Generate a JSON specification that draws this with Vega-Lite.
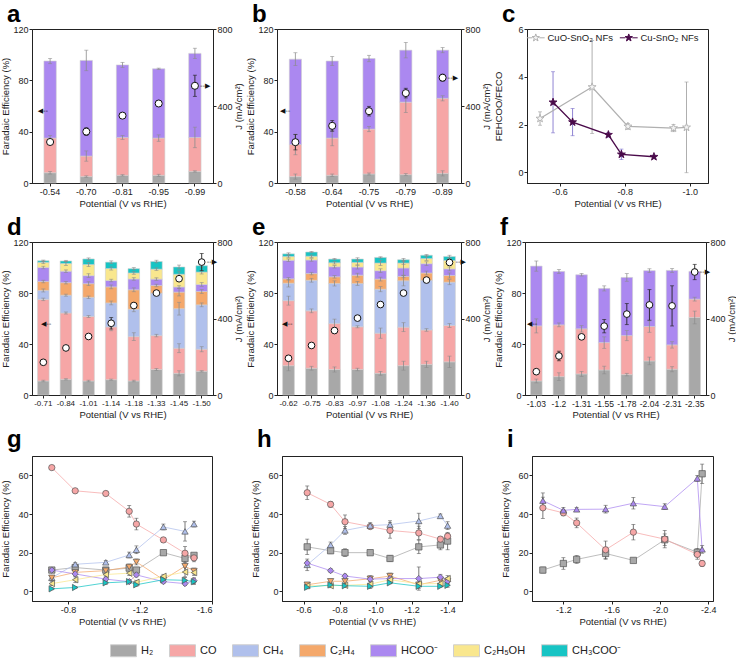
{
"$schema":"https://vega.github.io/schema/vega-lite/v6.json",
"padding":{"top":2,"left":0,"right":0,"bottom":0},
"background":"white",
"config":{
 "font":"Liberation Sans",
 "view":{"stroke":"#222","strokeWidth":1},
 "axis":{"grid":false,"domainColor":"#222","tickColor":"#222","labelColor":"#222","titleColor":"#222","labelFontSize":9,"titleFontSize":9.5,"titleFontWeight":"normal","tickSize":3,"labelPadding":1,"titlePadding":2,"labelFont":"Liberation Sans","titleFont":"Liberation Sans","labelOverlap":false},
 "axisX":{"labelAngle":0},
 "axisRight":{"titleAngle":270,"titleBaseline":"middle","titleX":25},
 "title":{"fontSize":24,"fontWeight":"bold","anchor":"start","frame":"group","dx":-25,"offset":-2,"baseline":"alphabetic","font":"Liberation Sans","color":"#000"},
 "legend":{"labelFont":"Liberation Sans","labelColor":"#222"}
},
"datasets":{
 "prods":[{"p":"H₂","o":1},{"p":"CO","o":2},{"p":"CH₄","o":3},{"p":"C₂H₄","o":4},{"p":"HCOO⁻","o":5},{"p":"C₂H₅OH","o":6},{"p":"CH₃COO⁻","o":7}],
 "a":[
  {"v":-0.54,"p":"H₂","fe":8,"e":1},{"v":-0.54,"p":"CO","fe":27,"e":2},{"v":-0.54,"p":"HCOO⁻","fe":60,"e":2},
  {"v":-0.70,"p":"H₂","fe":5,"e":0.6},{"v":-0.70,"p":"CO","fe":16,"e":4},{"v":-0.70,"p":"HCOO⁻","fe":74.5,"e":8},
  {"v":-0.81,"p":"H₂","fe":6,"e":0.5},{"v":-0.81,"p":"CO","fe":29.5,"e":1.5},{"v":-0.81,"p":"HCOO⁻","fe":56.5,"e":2},
  {"v":-0.95,"p":"H₂","fe":6,"e":0.8},{"v":-0.95,"p":"CO","fe":29,"e":2.5},{"v":-0.95,"p":"HCOO⁻","fe":54,"e":0.5},
  {"v":-0.99,"p":"H₂","fe":9,"e":0.5},{"v":-0.99,"p":"CO","fe":26.5,"e":8},{"v":-0.99,"p":"HCOO⁻","fe":65.5,"e":4}],
 "aJ":[{"v":-0.54,"j":213,"je":10},{"v":-0.70,"j":267,"je":20},{"v":-0.81,"j":350,"je":8},{"v":-0.95,"j":413,"je":12},{"v":-0.99,"j":505,"je":55}],
 "b":[
  {"v":-0.58,"p":"H₂","fe":5,"e":2},{"v":-0.58,"p":"CO","fe":25,"e":8},{"v":-0.58,"p":"HCOO⁻","fe":66.5,"e":5},
  {"v":-0.64,"p":"H₂","fe":6,"e":1},{"v":-0.64,"p":"CO","fe":29,"e":6},{"v":-0.64,"p":"HCOO⁻","fe":60,"e":3.5},
  {"v":-0.75,"p":"H₂","fe":7,"e":0.8},{"v":-0.75,"p":"CO","fe":35,"e":2},{"v":-0.75,"p":"HCOO⁻","fe":55,"e":2.5},
  {"v":-0.79,"p":"H₂","fe":6.5,"e":0.8},{"v":-0.79,"p":"CO","fe":56.5,"e":8},{"v":-0.79,"p":"HCOO⁻","fe":40.5,"e":6},
  {"v":-0.89,"p":"H₂","fe":7.5,"e":2},{"v":-0.89,"p":"CO","fe":58.5,"e":2},{"v":-0.89,"p":"HCOO⁻","fe":37.5,"e":2}],
 "bJ":[{"v":-0.58,"j":212,"je":40},{"v":-0.64,"j":297,"je":28},{"v":-0.75,"j":373,"je":25},{"v":-0.79,"j":467,"je":25},{"v":-0.89,"j":547,"je":18}],
 "c":[
  {"v":-0.54,"s":"CuO-SnO₂ NFs","r":2.25,"re":0.28},{"v":-0.70,"s":"CuO-SnO₂ NFs","r":3.57,"re":1.95},{"v":-0.81,"s":"CuO-SnO₂ NFs","r":1.92,"re":0.12},{"v":-0.95,"s":"CuO-SnO₂ NFs","r":1.85,"re":0.15},{"v":-0.99,"s":"CuO-SnO₂ NFs","r":1.88,"re":1.9},
  {"v":-0.58,"s":"Cu-SnO₂ NFs","r":2.93,"re":1.28},{"v":-0.64,"s":"Cu-SnO₂ NFs","r":2.1,"re":0.57},{"v":-0.75,"s":"Cu-SnO₂ NFs","r":1.57,"re":0.1},{"v":-0.79,"s":"Cu-SnO₂ NFs","r":0.75,"re":0.22},{"v":-0.89,"s":"Cu-SnO₂ NFs","r":0.65,"re":0.06}],
 "d":[
  {"v":-0.71,"p":"H₂","fe":11,"e":0.6},{"v":-0.71,"p":"CO","fe":64,"e":1},{"v":-0.71,"p":"CH₄","fe":7,"e":1.2},{"v":-0.71,"p":"C₂H₄","fe":7,"e":1},{"v":-0.71,"p":"HCOO⁻","fe":11,"e":1},{"v":-0.71,"p":"C₂H₅OH","fe":4,"e":1},{"v":-0.71,"p":"CH₃COO⁻","fe":1.3,"e":0.5},
  {"v":-0.84,"p":"H₂","fe":12.3,"e":0.5},{"v":-0.84,"p":"CO","fe":52,"e":0.8},{"v":-0.84,"p":"CH₄","fe":14,"e":0.8},{"v":-0.84,"p":"C₂H₄","fe":9.8,"e":1},{"v":-0.84,"p":"HCOO⁻","fe":9,"e":1},{"v":-0.84,"p":"C₂H₅OH","fe":6,"e":1.5},{"v":-0.84,"p":"CH₃COO⁻","fe":2,"e":0.5},
  {"v":-1.01,"p":"H₂","fe":11,"e":0.6},{"v":-1.01,"p":"CO","fe":50.6,"e":0.8},{"v":-1.01,"p":"CH₄","fe":15,"e":1},{"v":-1.01,"p":"C₂H₄","fe":10.7,"e":1.5},{"v":-1.01,"p":"HCOO⁻","fe":6.3,"e":1.5},{"v":-1.01,"p":"C₂H₅OH","fe":8.7,"e":1.5},{"v":-1.01,"p":"CH₃COO⁻","fe":4.4,"e":0.8},
  {"v":-1.14,"p":"H₂","fe":12,"e":0.5},{"v":-1.14,"p":"CO","fe":41.4,"e":3},{"v":-1.14,"p":"CH₄","fe":18.8,"e":1.5},{"v":-1.14,"p":"C₂H₄","fe":12.6,"e":1.5},{"v":-1.14,"p":"HCOO⁻","fe":5,"e":1},{"v":-1.14,"p":"C₂H₅OH","fe":9.4,"e":1.2},{"v":-1.14,"p":"CH₃COO⁻","fe":5,"e":1},
  {"v":-1.18,"p":"H₂","fe":11,"e":0.6},{"v":-1.18,"p":"CO","fe":34.8,"e":3},{"v":-1.18,"p":"CH₄","fe":21.5,"e":2},{"v":-1.18,"p":"C₂H₄","fe":15.2,"e":1.5},{"v":-1.18,"p":"HCOO⁻","fe":8.5,"e":1},{"v":-1.18,"p":"C₂H₅OH","fe":4.7,"e":1},{"v":-1.18,"p":"CH₃COO⁻","fe":3.4,"e":0.8},
  {"v":-1.33,"p":"H₂","fe":20,"e":0.8},{"v":-1.33,"p":"CO","fe":26.6,"e":1},{"v":-1.33,"p":"CH₄","fe":33.3,"e":1.5},{"v":-1.33,"p":"C₂H₄","fe":6,"e":1},{"v":-1.33,"p":"HCOO⁻","fe":5,"e":1},{"v":-1.33,"p":"C₂H₅OH","fe":7.8,"e":1},{"v":-1.33,"p":"CH₃COO⁻","fe":6,"e":1},
  {"v":-1.45,"p":"H₂","fe":17,"e":2},{"v":-1.45,"p":"CO","fe":19.7,"e":3.5},{"v":-1.45,"p":"CH₄","fe":31,"e":5},{"v":-1.45,"p":"C₂H₄","fe":13,"e":3},{"v":-1.45,"p":"HCOO⁻","fe":4,"e":1},{"v":-1.45,"p":"C₂H₅OH","fe":10,"e":2.5},{"v":-1.45,"p":"CH₃COO⁻","fe":5.7,"e":1.5},
  {"v":-1.50,"p":"H₂","fe":18.6,"e":0.5},{"v":-1.50,"p":"CO","fe":17.3,"e":2},{"v":-1.50,"p":"CH₄","fe":34.8,"e":1.5},{"v":-1.50,"p":"C₂H₄","fe":10.5,"e":1.5},{"v":-1.50,"p":"HCOO⁻","fe":5.5,"e":1.5},{"v":-1.50,"p":"C₂H₅OH","fe":9.7,"e":1.5},{"v":-1.50,"p":"CH₃COO⁻","fe":5,"e":1.5}],
 "dJ":[{"v":-0.71,"j":171,"je":8},{"v":-0.84,"j":246,"je":6},{"v":-1.01,"j":306,"je":6},{"v":-1.14,"j":375,"je":30},{"v":-1.18,"j":468,"je":8},{"v":-1.33,"j":533,"je":8},{"v":-1.45,"j":608,"je":8},{"v":-1.50,"j":695,"je":45}],
 "e":[
  {"v":-0.62,"p":"H₂","fe":23,"e":4},{"v":-0.62,"p":"CO","fe":51,"e":3.5},{"v":-0.62,"p":"CH₄","fe":13.7,"e":3},{"v":-0.62,"p":"C₂H₄","fe":3.4,"e":1},{"v":-0.62,"p":"HCOO⁻","fe":14.6,"e":1},{"v":-0.62,"p":"C₂H₅OH","fe":2.9,"e":1},{"v":-0.62,"p":"CH₃COO⁻","fe":2.1,"e":0.8},
  {"v":-0.75,"p":"H₂","fe":21,"e":1.5},{"v":-0.75,"p":"CO","fe":45,"e":1.5},{"v":-0.75,"p":"CH₄","fe":24,"e":1.5},{"v":-0.75,"p":"C₂H₄","fe":5.2,"e":1},{"v":-0.75,"p":"HCOO⁻","fe":10.7,"e":1},{"v":-0.75,"p":"C₂H₅OH","fe":2.9,"e":1},{"v":-0.75,"p":"CH₃COO⁻","fe":3.3,"e":0.5},
  {"v":-0.83,"p":"H₂","fe":20,"e":2},{"v":-0.83,"p":"CO","fe":36,"e":3.5},{"v":-0.83,"p":"CH₄","fe":31.5,"e":2},{"v":-0.83,"p":"C₂H₄","fe":5.2,"e":1},{"v":-0.83,"p":"HCOO⁻","fe":7.9,"e":1},{"v":-0.83,"p":"C₂H₅OH","fe":3.1,"e":1},{"v":-0.83,"p":"CH₃COO⁻","fe":2.9,"e":0.5},
  {"v":-0.97,"p":"H₂","fe":20,"e":1},{"v":-0.97,"p":"CO","fe":33.5,"e":0.8},{"v":-0.97,"p":"CH₄","fe":34,"e":1.5},{"v":-0.97,"p":"C₂H₄","fe":6.5,"e":1.5},{"v":-0.97,"p":"HCOO⁻","fe":6.3,"e":1.5},{"v":-0.97,"p":"C₂H₅OH","fe":3.7,"e":2},{"v":-0.97,"p":"CH₃COO⁻","fe":2.6,"e":1},
  {"v":-1.08,"p":"H₂","fe":17,"e":1.5},{"v":-1.08,"p":"CO","fe":31.5,"e":4},{"v":-1.08,"p":"CH₄","fe":34.5,"e":2},{"v":-1.08,"p":"C₂H₄","fe":7.9,"e":1.5},{"v":-1.08,"p":"HCOO⁻","fe":6.6,"e":1.5},{"v":-1.08,"p":"C₂H₅OH","fe":6,"e":2},{"v":-1.08,"p":"CH₃COO⁻","fe":4.4,"e":0.5},
  {"v":-1.24,"p":"H₂","fe":23,"e":3.5},{"v":-1.24,"p":"CO","fe":30.2,"e":3.5},{"v":-1.24,"p":"CH₄","fe":36.4,"e":4},{"v":-1.24,"p":"C₂H₄","fe":3.4,"e":1},{"v":-1.24,"p":"HCOO⁻","fe":6.6,"e":6},{"v":-1.24,"p":"C₂H₅OH","fe":3.9,"e":1},{"v":-1.24,"p":"CH₃COO⁻","fe":2.6,"e":1},
  {"v":-1.36,"p":"H₂","fe":24,"e":2.5},{"v":-1.36,"p":"CO","fe":27,"e":1},{"v":-1.36,"p":"CH₄","fe":39,"e":1},{"v":-1.36,"p":"C₂H₄","fe":5.7,"e":1.5},{"v":-1.36,"p":"HCOO⁻","fe":7.3,"e":1.5},{"v":-1.36,"p":"C₂H₅OH","fe":4,"e":1.5},{"v":-1.36,"p":"CH₃COO⁻","fe":2.6,"e":0.5},
  {"v":-1.40,"p":"H₂","fe":26,"e":4.5},{"v":-1.40,"p":"CO","fe":28.5,"e":1.5},{"v":-1.40,"p":"CH₄","fe":34,"e":2},{"v":-1.40,"p":"C₂H₄","fe":5.2,"e":2},{"v":-1.40,"p":"HCOO⁻","fe":5.2,"e":1.5},{"v":-1.40,"p":"C₂H₅OH","fe":6.6,"e":1.5},{"v":-1.40,"p":"CH₃COO⁻","fe":3.1,"e":1}],
 "eJ":[{"v":-0.62,"j":192,"je":8},{"v":-0.75,"j":259,"je":5},{"v":-0.83,"j":337,"je":8},{"v":-0.97,"j":402,"je":6},{"v":-1.08,"j":473,"je":6},{"v":-1.24,"j":533,"je":12},{"v":-1.36,"j":601,"je":6},{"v":-1.40,"j":693,"je":6}],
 "f":[
  {"v":-1.03,"p":"H₂","fe":11,"e":1.5},{"v":-1.03,"p":"CO","fe":43.2,"e":5.5},{"v":-1.03,"p":"HCOO⁻","fe":46.9,"e":4},
  {"v":-1.2,"p":"H₂","fe":14.4,"e":3},{"v":-1.2,"p":"CO","fe":40.6,"e":1.5},{"v":-1.2,"p":"HCOO⁻","fe":41.9,"e":1.5},
  {"v":-1.31,"p":"H₂","fe":16.5,"e":2},{"v":-1.31,"p":"CO","fe":35.4,"e":2.5},{"v":-1.31,"p":"HCOO⁻","fe":42.4,"e":1},
  {"v":-1.55,"p":"H₂","fe":19.6,"e":3},{"v":-1.55,"p":"CO","fe":21.5,"e":4.5},{"v":-1.55,"p":"HCOO⁻","fe":42.5,"e":2},
  {"v":-1.78,"p":"H₂","fe":16,"e":1},{"v":-1.78,"p":"CO","fe":30.6,"e":4},{"v":-1.78,"p":"HCOO⁻","fe":45.6,"e":3},
  {"v":-2.04,"p":"H₂","fe":26.7,"e":3},{"v":-2.04,"p":"CO","fe":27,"e":4.5},{"v":-2.04,"p":"HCOO⁻","fe":43.8,"e":1.5},
  {"v":-2.31,"p":"H₂","fe":20.2,"e":2},{"v":-2.31,"p":"CO","fe":19.1,"e":2.5},{"v":-2.31,"p":"HCOO⁻","fe":58.4,"e":1.5},
  {"v":-2.35,"p":"H₂","fe":60.8,"e":5},{"v":-2.35,"p":"CO","fe":14.4,"e":1.5},{"v":-2.35,"p":"HCOO⁻","fe":21.7,"e":2}],
 "fJ":[{"v":-1.03,"j":122,"je":10},{"v":-1.2,"j":204,"je":25},{"v":-1.31,"j":304,"je":10},{"v":-1.55,"j":360,"je":35},{"v":-1.78,"j":423,"je":55},{"v":-2.04,"j":471,"je":80},{"v":-2.31,"j":466,"je":105},{"v":-2.35,"j":643,"je":40}]
},
"spacing":7,
"resolve":{"scale":{"stroke":"independent","fill":"independent","shape":"independent"},"legend":{"stroke":"independent","fill":"independent","shape":"independent"}},
"vconcat":[
 {"spacing":2,
  "resolve":{"scale":{"stroke":"independent","fill":"independent"},"legend":{"stroke":"independent","fill":"independent"}},
  "hconcat":[
  {"width":181,"height":154,"title":{"text":"a"},
   "layer":[
    {"data":{"name":"a"},
     "transform":[{"lookup":"p","from":{"data":{"name":"prods"},"key":"p","fields":["o"]}},{"stack":"fe","groupby":["v"],"sort":[{"field":"o","order":"ascending"}],"as":["y0","y1"]}],
     "layer":[
      {"mark":{"type":"bar","stroke":"#cfcfcf","strokeWidth":0.6},
       "encoding":{
        "x":{"field":"v","type":"ordinal","sort":"descending","title":"Potential (V vs RHE)","scale":{"paddingInner":0.66,"paddingOuter":0.33},"axis":{"labelExpr":"replace(format(datum.value, '.2f'), '−', '-')"}},
        "y":{"field":"y1","type":"quantitative","title":"Faradaic Efficiency (%)","scale":{"domain":[0,120],"nice":false},"axis":{"values":[0,20,40,60,80,100,120]}},
        "y2":{"field":"y0"},
        "color":{"field":"p","type":"nominal","scale":{"domain":["H₂","CO","CH₄","C₂H₄","HCOO⁻","C₂H₅OH","CH₃COO⁻"],"range":["#a8a8a8","#f6a6a6","#b0c0ec","#f4a86b","#ab88f0","#f9e78e","#17c4c4"]},
          "legend":{"title":null,"orient":"none","legendX":78,"legendY":608,"direction":"horizontal","symbolType":"M-1,-0.46H1V0.46H-1Z","symbolSize":676,"labelFontSize":11,"labelOffset":4,"columnPadding":13,"symbolStrokeColor":"#bdbdbd","symbolStrokeWidth":1}}}},
      {"mark":{"type":"errorbar","color":"#8c8c8c","ticks":{"size":4},"thickness":0.8},
       "encoding":{"x":{"field":"v","type":"ordinal","sort":"descending","title":"Potential (V vs RHE)"},"y":{"field":"y1","type":"quantitative","title":"Faradaic Efficiency (%)"},"yError":{"field":"e"}}}
     ]},
    {"data":{"name":"aJ"},
     "layer":[
      {"mark":{"type":"errorbar","color":"#222","ticks":{"size":4},"thickness":0.9},
       "encoding":{"x":{"field":"v","type":"ordinal","sort":"descending","title":"Potential (V vs RHE)"},"y":{"field":"j","type":"quantitative","title":"J (mA/cm²)","scale":{"domain":[0,800],"nice":false},"axis":{"orient":"right","values":[0,200,400,600,800]}},"yError":{"field":"je"}}},
      {"mark":{"type":"point","filled":true,"fill":"white","stroke":"#111","strokeWidth":1,"size":50,"opacity":1},
       "encoding":{"x":{"field":"v","type":"ordinal","sort":"descending","title":"Potential (V vs RHE)"},"y":{"field":"j","type":"quantitative","title":"J (mA/cm²)"}}},
      {"transform":[{"filter":"datum.v == -0.54"}],"mark":{"type":"text","text":"◀--","align":"right","baseline":"middle","dx":-2,"fontSize":7,"font":"DejaVu Sans","color":"#111"},
       "encoding":{"x":{"field":"v","type":"ordinal","sort":"descending","title":"Potential (V vs RHE)"},"y":{"datum":373}}},
      {"transform":[{"filter":"datum.v == -0.99"}],"mark":{"type":"text","text":"--▶","align":"left","baseline":"middle","dx":5,"fontSize":7,"font":"DejaVu Sans","color":"#111"},
       "encoding":{"x":{"field":"v","type":"ordinal","sort":"descending","title":"Potential (V vs RHE)"},"y":{"field":"j","type":"quantitative","title":"J (mA/cm²)"}}}
     ]}
   ],
   "resolve":{"scale":{"y":"independent"}}},
  {"width":184,"height":154,"title":{"text":"b"},
   "layer":[
    {"data":{"name":"b"},
     "transform":[{"lookup":"p","from":{"data":{"name":"prods"},"key":"p","fields":["o"]}},{"stack":"fe","groupby":["v"],"sort":[{"field":"o","order":"ascending"}],"as":["y0","y1"]}],
     "layer":[
      {"mark":{"type":"bar","stroke":"#cfcfcf","strokeWidth":0.6},
       "encoding":{
        "x":{"field":"v","type":"ordinal","sort":"descending","title":"Potential (V vs RHE)","scale":{"paddingInner":0.67,"paddingOuter":0.335},"axis":{"labelExpr":"replace(format(datum.value, '.2f'), '−', '-')"}},
        "y":{"field":"y1","type":"quantitative","title":"Faradaic Efficiency (%)","scale":{"domain":[0,120],"nice":false},"axis":{"values":[0,20,40,60,80,100,120]}},
        "y2":{"field":"y0"},
        "color":{"field":"p","type":"nominal"}}},
      {"mark":{"type":"errorbar","color":"#8c8c8c","ticks":{"size":4},"thickness":0.8},
       "encoding":{"x":{"field":"v","type":"ordinal","sort":"descending","title":"Potential (V vs RHE)"},"y":{"field":"y1","type":"quantitative","title":"Faradaic Efficiency (%)"},"yError":{"field":"e"}}}
     ]},
    {"data":{"name":"bJ"},
     "layer":[
      {"mark":{"type":"errorbar","color":"#222","ticks":{"size":4},"thickness":0.9},
       "encoding":{"x":{"field":"v","type":"ordinal","sort":"descending","title":"Potential (V vs RHE)"},"y":{"field":"j","type":"quantitative","title":"J (mA/cm²)","scale":{"domain":[0,800],"nice":false},"axis":{"orient":"right","values":[0,200,400,600,800]}},"yError":{"field":"je"}}},
      {"mark":{"type":"point","filled":true,"fill":"white","stroke":"#111","strokeWidth":1,"size":50,"opacity":1},
       "encoding":{"x":{"field":"v","type":"ordinal","sort":"descending","title":"Potential (V vs RHE)"},"y":{"field":"j","type":"quantitative","title":"J (mA/cm²)"}}},
      {"transform":[{"filter":"datum.v == -0.58"}],"mark":{"type":"text","text":"◀--","align":"right","baseline":"middle","dx":-5,"fontSize":7,"font":"DejaVu Sans","color":"#111"},
       "encoding":{"x":{"field":"v","type":"ordinal","sort":"descending","title":"Potential (V vs RHE)"},"y":{"datum":373}}},
      {"transform":[{"filter":"datum.v == -0.89"}],"mark":{"type":"text","text":"--▶","align":"left","baseline":"middle","dx":5,"fontSize":7,"font":"DejaVu Sans","color":"#111"},
       "encoding":{"x":{"field":"v","type":"ordinal","sort":"descending","title":"Potential (V vs RHE)"},"y":{"field":"j","type":"quantitative","title":"J (mA/cm²)"}}}
     ]}
   ],
   "resolve":{"scale":{"y":"independent"}}},
  {"width":181,"height":154,"title":{"text":"c"},
   "data":{"name":"c"},
   "layer":[
    {"transform":[{"filter":"datum.s == 'CuO-SnO₂ NFs'"}],"mark":{"type":"errorbar","color":"#9a9a9a","ticks":{"size":4},"thickness":0.8},
     "encoding":{"x":{"field":"v","type":"quantitative","title":"Potential (V vs RHE)","scale":{"domain":[-1.056,-0.5],"reverse":true,"nice":false,"zero":false},"axis":{"values":[-0.5,-0.6,-0.7,-0.8,-0.9,-1.0],"labelExpr":"replace(format(datum.value, '.1f'), '−', '-')"}},
      "y":{"field":"r","type":"quantitative","title":"FEHCOO/FECO","scale":{"domain":[-0.45,6],"nice":false,"zero":false},"axis":{"values":[0,1,2,3,4,5,6],"titlePadding":14}},"yError":{"field":"re"}}},
    {"transform":[{"filter":"datum.s == 'Cu-SnO₂ NFs'"}],"mark":{"type":"errorbar","color":"#7466c8","ticks":{"size":4},"thickness":0.8},
     "encoding":{"x":{"field":"v","type":"quantitative","title":"Potential (V vs RHE)"},"y":{"field":"r","type":"quantitative","title":"FEHCOO/FECO"},"yError":{"field":"re"}}},
    {"mark":{"type":"line","strokeWidth":1.3},
     "encoding":{"x":{"field":"v","type":"quantitative","title":"Potential (V vs RHE)"},"y":{"field":"r","type":"quantitative","title":"FEHCOO/FECO"},
      "stroke":{"field":"s","type":"nominal","scale":{"domain":["CuO-SnO₂ NFs","Cu-SnO₂ NFs"],"range":["#b0b0b0","#4a0a4a"]},
       "legend":{"title":null,"orient":"top-left","direction":"horizontal","symbolType":"M-2.3,0H-0.9M0.9,0H2.3M0,-1L0.235,-0.324L0.951,-0.309L0.38,0.124L0.588,0.809L0,0.4L-0.588,0.809L-0.38,0.124L-0.951,-0.309L-0.235,-0.324Z","symbolSize":60,"labelFontSize":9.5,"offset":3,"padding":1,"columnPadding":4,"labelOffset":7,"symbolStrokeWidth":1}}}},
    {"mark":{"type":"point","shape":"M0,-1L0.235,-0.324L0.951,-0.309L0.38,0.124L0.588,0.809L0,0.4L-0.588,0.809L-0.38,0.124L-0.951,-0.309L-0.235,-0.324Z","size":70,"filled":true,"strokeWidth":0.9,"opacity":1},
     "encoding":{"x":{"field":"v","type":"quantitative","title":"Potential (V vs RHE)"},"y":{"field":"r","type":"quantitative","title":"FEHCOO/FECO"},
      "stroke":{"field":"s","type":"nominal"},
      "fill":{"field":"s","type":"nominal","scale":{"domain":["CuO-SnO₂ NFs","Cu-SnO₂ NFs"],"range":["#f4f4f4","#4a0a4a"]},
       "legend":{"title":null,"orient":"top-left","direction":"horizontal","symbolType":"M-2.3,0H-0.9M0.9,0H2.3M0,-1L0.235,-0.324L0.951,-0.309L0.38,0.124L0.588,0.809L0,0.4L-0.588,0.809L-0.38,0.124L-0.951,-0.309L-0.235,-0.324Z","symbolSize":60,"labelFontSize":9.5,"offset":3,"padding":1,"columnPadding":4,"labelOffset":7,"symbolStrokeWidth":1}}}}
   ]}
 ]},
 {"spacing":2,
  "hconcat":[
  {"width":181,"height":153,"title":{"text":"d"},
   "layer":[
    {"data":{"name":"d"},
     "transform":[{"lookup":"p","from":{"data":{"name":"prods"},"key":"p","fields":["o"]}},{"stack":"fe","groupby":["v"],"sort":[{"field":"o","order":"ascending"}],"as":["y0","y1"]}],
     "layer":[
      {"mark":{"type":"bar","stroke":"#cfcfcf","strokeWidth":0.6},
       "encoding":{
        "x":{"field":"v","type":"ordinal","sort":"descending","title":"Potential (V vs RHE)","scale":{"paddingInner":0.49,"paddingOuter":0.245},"axis":{"labelFontSize":8,"labelExpr":"replace(format(datum.value, '.2f'), '−', '-')"}},
        "y":{"field":"y1","type":"quantitative","title":"Faradaic Efficiency (%)","scale":{"domain":[0,120],"nice":false},"axis":{"values":[0,20,40,60,80,100,120]}},
        "y2":{"field":"y0"},
        "color":{"field":"p","type":"nominal"}}},
      {"mark":{"type":"errorbar","color":"#8c8c8c","ticks":{"size":4},"thickness":0.8},
       "encoding":{"x":{"field":"v","type":"ordinal","sort":"descending","title":"Potential (V vs RHE)"},"y":{"field":"y1","type":"quantitative","title":"Faradaic Efficiency (%)"},"yError":{"field":"e"}}}
     ]},
    {"data":{"name":"dJ"},
     "layer":[
      {"mark":{"type":"errorbar","color":"#222","ticks":{"size":4},"thickness":0.9},
       "encoding":{"x":{"field":"v","type":"ordinal","sort":"descending","title":"Potential (V vs RHE)"},"y":{"field":"j","type":"quantitative","title":"J (mA/cm²)","scale":{"domain":[0,800],"nice":false},"axis":{"orient":"right","values":[0,200,400,600,800]}},"yError":{"field":"je"}}},
      {"mark":{"type":"point","filled":true,"fill":"white","stroke":"#111","strokeWidth":1,"size":45,"opacity":1},
       "encoding":{"x":{"field":"v","type":"ordinal","sort":"descending","title":"Potential (V vs RHE)"},"y":{"field":"j","type":"quantitative","title":"J (mA/cm²)"}}},
      {"transform":[{"filter":"datum.v == -0.71"}],"mark":{"type":"text","text":"◀--","align":"right","baseline":"middle","dx":8,"fontSize":7,"font":"DejaVu Sans","color":"#111"},
       "encoding":{"x":{"field":"v","type":"ordinal","sort":"descending","title":"Potential (V vs RHE)"},"y":{"datum":373}}},
      {"transform":[{"filter":"datum.v == -1.5"}],"mark":{"type":"text","text":"--▶","align":"left","baseline":"middle","dx":5,"fontSize":7,"font":"DejaVu Sans","color":"#111"},
       "encoding":{"x":{"field":"v","type":"ordinal","sort":"descending","title":"Potential (V vs RHE)"},"y":{"field":"j","type":"quantitative","title":"J (mA/cm²)"}}}
     ]}
   ],
   "resolve":{"scale":{"y":"independent"}}},
  {"width":184,"height":153,"title":{"text":"e"},
   "layer":[
    {"data":{"name":"e"},
     "transform":[{"lookup":"p","from":{"data":{"name":"prods"},"key":"p","fields":["o"]}},{"stack":"fe","groupby":["v"],"sort":[{"field":"o","order":"ascending"}],"as":["y0","y1"]}],
     "layer":[
      {"mark":{"type":"bar","stroke":"#cfcfcf","strokeWidth":0.6},
       "encoding":{
        "x":{"field":"v","type":"ordinal","sort":"descending","title":"Potential (V vs RHE)","scale":{"paddingInner":0.49,"paddingOuter":0.245},"axis":{"labelFontSize":8,"labelExpr":"replace(format(datum.value, '.2f'), '−', '-')"}},
        "y":{"field":"y1","type":"quantitative","title":"Faradaic Efficiency (%)","scale":{"domain":[0,120],"nice":false},"axis":{"values":[0,20,40,60,80,100,120]}},
        "y2":{"field":"y0"},
        "color":{"field":"p","type":"nominal"}}},
      {"mark":{"type":"errorbar","color":"#8c8c8c","ticks":{"size":4},"thickness":0.8},
       "encoding":{"x":{"field":"v","type":"ordinal","sort":"descending","title":"Potential (V vs RHE)"},"y":{"field":"y1","type":"quantitative","title":"Faradaic Efficiency (%)"},"yError":{"field":"e"}}}
     ]},
    {"data":{"name":"eJ"},
     "layer":[
      {"mark":{"type":"errorbar","color":"#222","ticks":{"size":4},"thickness":0.9},
       "encoding":{"x":{"field":"v","type":"ordinal","sort":"descending","title":"Potential (V vs RHE)"},"y":{"field":"j","type":"quantitative","title":"J (mA/cm²)","scale":{"domain":[0,800],"nice":false},"axis":{"orient":"right","values":[0,200,400,600,800]}},"yError":{"field":"je"}}},
      {"mark":{"type":"point","filled":true,"fill":"white","stroke":"#111","strokeWidth":1,"size":45,"opacity":1},
       "encoding":{"x":{"field":"v","type":"ordinal","sort":"descending","title":"Potential (V vs RHE)"},"y":{"field":"j","type":"quantitative","title":"J (mA/cm²)"}}},
      {"transform":[{"filter":"datum.v == -0.62"}],"mark":{"type":"text","text":"◀--","align":"right","baseline":"middle","dx":4,"fontSize":7,"font":"DejaVu Sans","color":"#111"},
       "encoding":{"x":{"field":"v","type":"ordinal","sort":"descending","title":"Potential (V vs RHE)"},"y":{"datum":373}}},
      {"transform":[{"filter":"datum.v == -1.4"}],"mark":{"type":"text","text":"--▶","align":"left","baseline":"middle","dx":6,"fontSize":7,"font":"DejaVu Sans","color":"#111"},
       "encoding":{"x":{"field":"v","type":"ordinal","sort":"descending","title":"Potential (V vs RHE)"},"y":{"field":"j","type":"quantitative","title":"J (mA/cm²)"}}}
     ]}
   ],
   "resolve":{"scale":{"y":"independent"}}},
  {"width":181,"height":153,"title":{"text":"f"},
   "layer":[
    {"data":{"name":"f"},
     "transform":[{"lookup":"p","from":{"data":{"name":"prods"},"key":"p","fields":["o"]}},{"stack":"fe","groupby":["v"],"sort":[{"field":"o","order":"ascending"}],"as":["y0","y1"]}],
     "layer":[
      {"mark":{"type":"bar","stroke":"#cfcfcf","strokeWidth":0.6},
       "encoding":{
        "x":{"field":"v","type":"ordinal","sort":"descending","title":"Potential (V vs RHE)","scale":{"paddingInner":0.49,"paddingOuter":0.245},"axis":{"labelFontSize":8.5}},
        "y":{"field":"y1","type":"quantitative","title":"Faradaic Efficiency (%)","scale":{"domain":[0,120],"nice":false},"axis":{"values":[0,20,40,60,80,100,120]}},
        "y2":{"field":"y0"},
        "color":{"field":"p","type":"nominal"}}},
      {"mark":{"type":"errorbar","color":"#8c8c8c","ticks":{"size":4},"thickness":0.8},
       "encoding":{"x":{"field":"v","type":"ordinal","sort":"descending","title":"Potential (V vs RHE)"},"y":{"field":"y1","type":"quantitative","title":"Faradaic Efficiency (%)"},"yError":{"field":"e"}}}
     ]},
    {"data":{"name":"fJ"},
     "layer":[
      {"mark":{"type":"errorbar","color":"#222","ticks":{"size":4},"thickness":0.9},
       "encoding":{"x":{"field":"v","type":"ordinal","sort":"descending","title":"Potential (V vs RHE)"},"y":{"field":"j","type":"quantitative","title":"J (mA/cm²)","scale":{"domain":[0,800],"nice":false},"axis":{"orient":"right","values":[0,200,400,600,800]}},"yError":{"field":"je"}}},
      {"mark":{"type":"point","filled":true,"fill":"white","stroke":"#111","strokeWidth":1,"size":45,"opacity":1},
       "encoding":{"x":{"field":"v","type":"ordinal","sort":"descending","title":"Potential (V vs RHE)"},"y":{"field":"j","type":"quantitative","title":"J (mA/cm²)"}}},
      {"transform":[{"filter":"datum.v == -1.03"}],"mark":{"type":"text","text":"◀--","align":"right","baseline":"middle","dx":1,"fontSize":7,"font":"DejaVu Sans","color":"#111"},
       "encoding":{"x":{"field":"v","type":"ordinal","sort":"descending","title":"Potential (V vs RHE)"},"y":{"datum":373}}},
      {"transform":[{"filter":"datum.v == -2.35"}],"mark":{"type":"text","text":"--▶","align":"left","baseline":"middle","dx":5,"fontSize":7,"font":"DejaVu Sans","color":"#111"},
       "encoding":{"x":{"field":"v","type":"ordinal","sort":"descending","title":"Potential (V vs RHE)"},"y":{"field":"j","type":"quantitative","title":"J (mA/cm²)"}}}
     ]}
   ],
   "resolve":{"scale":{"y":"independent"}}}
 ]},
 {"spacing":37,
  "resolve":{"scale":{"shape":"independent"}},
  "hconcat":[
  {"width":180,"height":145,"title":{"text":"g","offset":4},
   "data":{"name":"d"},
   "layer":[
    {"mark":{"type":"line","strokeWidth":1,"opacity":0.75},
     "encoding":{"x":{"field":"v","type":"quantitative","title":"Potential (V vs RHE)","scale":{"domain":[-1.6,-0.6],"reverse":true,"nice":false,"zero":false},"axis":{"values":[-0.6,-0.8,-1.0,-1.2,-1.4,-1.6],"labelExpr":"replace(format(datum.value, '.1f'), '−', '-')"}},
      "y":{"field":"fe","type":"quantitative","title":"Faradaic Efficiency (%)","scale":{"domain":[-5,70],"nice":false,"zero":false},"axis":{"values":[0,20,40,60],"titlePadding":7}},
      "stroke":{"field":"p","type":"nominal","scale":{"domain":["H₂","CO","CH₄","C₂H₄","HCOO⁻","C₂H₅OH","CH₃COO⁻"],"range":["#a8a8a8","#f6a6a6","#b0c0ec","#f4a86b","#ab88f0","#f9e78e","#17c4c4"]},"legend":null}}},
    {"mark":{"type":"errorbar","color":"#555","ticks":{"size":4},"thickness":0.8},
     "encoding":{"x":{"field":"v","type":"quantitative","title":"Potential (V vs RHE)"},"y":{"field":"fe","type":"quantitative","title":"Faradaic Efficiency (%)"},"yError":{"field":"e"}}},
    {"mark":{"type":"point","filled":true,"size":40,"stroke":"#555","strokeWidth":0.7,"opacity":1},
     "encoding":{"x":{"field":"v","type":"quantitative","title":"Potential (V vs RHE)"},"y":{"field":"fe","type":"quantitative","title":"Faradaic Efficiency (%)"},
      "fill":{"field":"p","type":"nominal","scale":{"domain":["H₂","CO","CH₄","C₂H₄","HCOO⁻","C₂H₅OH","CH₃COO⁻"],"range":["#a8a8a8","#f6a6a6","#b0c0ec","#f4a86b","#ab88f0","#f9e78e","#17c4c4"]},"legend":null},
      "shape":{"field":"p","type":"nominal","scale":{"domain":["H₂","CO","CH₄","C₂H₄","HCOO⁻","C₂H₅OH","CH₃COO⁻"],"range":["square","circle","triangle-up","triangle-down","diamond","triangle-left","triangle-right"]},"legend":null}}}
   ]},
  {"width":180,"height":145,"title":{"text":"h","offset":4},
   "data":{"name":"e"},
   "layer":[
    {"mark":{"type":"line","strokeWidth":1,"opacity":0.75},
     "encoding":{"x":{"field":"v","type":"quantitative","title":"Potential (V vs RHE)","scale":{"domain":[-1.48,-0.48],"reverse":true,"nice":false,"zero":false},"axis":{"values":[-0.6,-0.8,-1.0,-1.2,-1.4],"labelExpr":"replace(format(datum.value, '.1f'), '−', '-')"}},
      "y":{"field":"fe","type":"quantitative","title":"Faradaic Efficiency (%)","scale":{"domain":[-5,70],"nice":false,"zero":false},"axis":{"values":[0,20,40,60],"titlePadding":7}},
      "stroke":{"field":"p","type":"nominal","legend":null}}},
    {"mark":{"type":"errorbar","color":"#555","ticks":{"size":4},"thickness":0.8},
     "encoding":{"x":{"field":"v","type":"quantitative","title":"Potential (V vs RHE)"},"y":{"field":"fe","type":"quantitative","title":"Faradaic Efficiency (%)"},"yError":{"field":"e"}}},
    {"mark":{"type":"point","filled":true,"size":40,"stroke":"#555","strokeWidth":0.7,"opacity":1},
     "encoding":{"x":{"field":"v","type":"quantitative","title":"Potential (V vs RHE)"},"y":{"field":"fe","type":"quantitative","title":"Faradaic Efficiency (%)"},
      "fill":{"field":"p","type":"nominal","legend":null},
      "shape":{"field":"p","type":"nominal","scale":{"domain":["H₂","CO","CH₄","C₂H₄","HCOO⁻","C₂H₅OH","CH₃COO⁻"],"range":["square","circle","triangle-up","triangle-down","diamond","triangle-left","triangle-right"]},"legend":null}}}
   ]},
  {"width":181,"height":145,"title":{"text":"i","offset":4},
   "data":{"name":"f"},
   "layer":[
    {"mark":{"type":"line","strokeWidth":1,"opacity":0.75},
     "encoding":{"x":{"field":"v","type":"quantitative","title":"Potential (V vs RHE)","scale":{"domain":[-2.44,-0.94],"reverse":true,"nice":false,"zero":false},"axis":{"values":[-1.0,-1.2,-1.4,-1.6,-1.8,-2.0,-2.2,-2.4],"labelExpr":"replace(format(datum.value, '.1f'), '−', '-')"}},
      "y":{"field":"fe","type":"quantitative","title":"Faradaic Efficiency (%)","scale":{"domain":[-5,70],"nice":false,"zero":false},"axis":{"values":[0,20,40,60],"titlePadding":7}},
      "stroke":{"field":"p","type":"nominal","legend":null}}},
    {"mark":{"type":"errorbar","color":"#555","ticks":{"size":4},"thickness":0.8},
     "encoding":{"x":{"field":"v","type":"quantitative","title":"Potential (V vs RHE)"},"y":{"field":"fe","type":"quantitative","title":"Faradaic Efficiency (%)"},"yError":{"field":"e"}}},
    {"mark":{"type":"point","filled":true,"size":40,"stroke":"#555","strokeWidth":0.7,"opacity":1},
     "encoding":{"x":{"field":"v","type":"quantitative","title":"Potential (V vs RHE)"},"y":{"field":"fe","type":"quantitative","title":"Faradaic Efficiency (%)"},
      "fill":{"field":"p","type":"nominal","legend":null},
      "shape":{"field":"p","type":"nominal","scale":{"domain":["H₂","CO","HCOO⁻"],"range":["square","circle","triangle-up"]},"legend":null}}}
   ]}
 ]}
]
}
